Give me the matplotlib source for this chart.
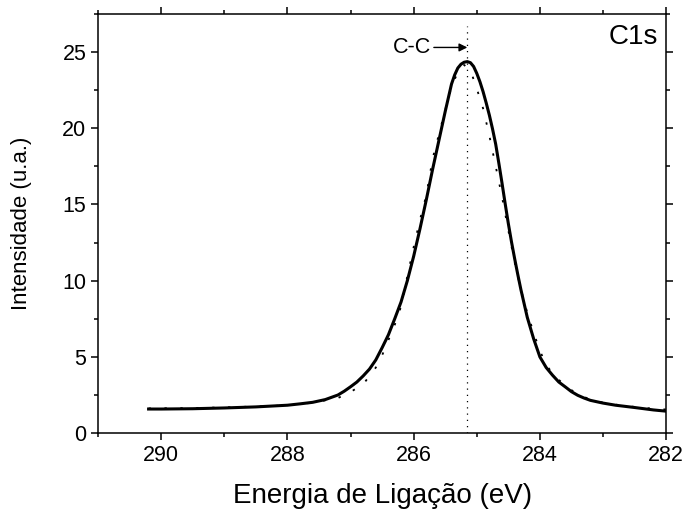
import matplotlib
matplotlib.use("Agg")
import matplotlib.pyplot as plt
from matplotlib.ticker import MultipleLocator

plt.rcParams['font.family'] = ['Liberation Sans', 'DejaVu Sans']

# fitted envelope (solid)
fit_energy = [290.2, 290.0, 289.5, 289.0, 288.5, 288.0, 287.8, 287.6, 287.4, 287.2,
              287.1, 287.0, 286.9, 286.8, 286.7, 286.6, 286.5, 286.4, 286.3, 286.2,
              286.1, 286.0, 285.9, 285.8, 285.7, 285.6, 285.5, 285.4, 285.35, 285.3,
              285.25, 285.2, 285.15, 285.1, 285.05, 285.0, 284.95, 284.9, 284.85, 284.8,
              284.75, 284.7, 284.65, 284.6, 284.55, 284.5, 284.45, 284.4, 284.35, 284.3,
              284.25, 284.2, 284.15, 284.1, 284.0, 283.9, 283.8, 283.7, 283.6, 283.5,
              283.4, 283.3, 283.2, 283.0, 282.8, 282.5, 282.2, 282.0]
fit_int = [1.58, 1.58, 1.60, 1.65, 1.72, 1.83, 1.92, 2.02, 2.20, 2.50,
           2.75, 3.04, 3.35, 3.75, 4.20, 4.80, 5.60, 6.45, 7.50, 8.60,
           10.00, 11.60, 13.40, 15.30, 17.30, 19.20, 21.10, 22.90, 23.50, 23.95,
           24.20, 24.33, 24.37, 24.30, 24.05, 23.60, 23.05, 22.40, 21.65, 20.85,
           19.95, 18.95, 17.70, 16.40, 15.05, 13.75, 12.55, 11.45, 10.40, 9.40,
           8.50, 7.60, 6.90, 6.20, 5.00, 4.30, 3.80, 3.35, 3.04, 2.72,
           2.48, 2.30, 2.15, 1.97, 1.83, 1.68, 1.52, 1.44]

# measured spectrum (dotted)
data_energy = [290.2, 290.0, 289.6, 289.2, 288.8, 288.4, 288.0, 287.8, 287.6, 287.4,
               287.2, 287.0, 286.8, 286.6, 286.5, 286.4, 286.3, 286.2, 286.1, 286.0,
               285.9, 285.8, 285.7, 285.6, 285.5, 285.4, 285.3, 285.2, 285.1, 285.0,
               284.9, 284.8, 284.7, 284.6, 284.5, 284.4, 284.3, 284.2, 284.1, 284.0,
               283.9, 283.8, 283.6, 283.4, 283.2, 283.0, 282.8, 282.6, 282.4, 282.2,
               282.0]
data_int = [1.62, 1.63, 1.64, 1.67, 1.71, 1.76, 1.82, 1.90, 2.00, 2.15,
            2.30, 2.70, 3.20, 4.30, 5.10, 6.10, 7.10, 8.30, 10.30, 12.20,
            14.00, 15.60, 18.00, 19.60, 21.20, 22.70, 23.70, 24.15, 23.80, 22.60,
            21.30, 19.50, 17.50, 15.50, 13.30, 11.20, 9.40, 7.90, 6.60, 5.40,
            4.50, 3.90, 3.10, 2.55, 2.20, 2.00, 1.87, 1.76, 1.68, 1.60,
            1.55]

peak_pos = 285.15

fig = plt.figure(figsize=(6.86, 5.15), dpi=100)
ax = fig.add_axes([0.143, 0.159, 0.828, 0.814])

ax.plot(data_energy, data_int, color='black', lw=1.3, linestyle=(0, (1.3, 7.5)))
ax.plot(fit_energy, fit_int, color='black', lw=2.2)
ax.plot([peak_pos, peak_pos], [0, 26.7], color='black', lw=0.9, linestyle=(0, (1, 4)))

ax.annotate('', xy=(peak_pos, 25.3), xytext=(285.68, 25.3),
            arrowprops=dict(arrowstyle='-|>', color='black', lw=1.0,
                            mutation_scale=12, shrinkA=0, shrinkB=0))
ax.text(285.72, 25.3, 'C-C', fontsize=15.5, ha='right', va='center')
ax.text(0.985, 0.975, 'C1s', transform=ax.transAxes, fontsize=20,
        ha='right', va='top')

ax.set_xlim(291, 282)
ax.set_ylim(0, 27.5)
ax.xaxis.set_major_locator(MultipleLocator(2))
ax.xaxis.set_minor_locator(MultipleLocator(1))
ax.yaxis.set_major_locator(MultipleLocator(5))
ax.yaxis.set_minor_locator(MultipleLocator(2.5))
ax.tick_params(which='both', direction='out', width=1.1, labelsize=15.5,
               top=True, right=True)
ax.tick_params(which='major', length=5)
ax.tick_params(which='minor', length=3)
for s in ax.spines.values():
    s.set_linewidth(1.1)

ax.set_xlabel('Energia de Ligação (eV)', fontsize=20, labelpad=12)
ax.set_ylabel('Intensidade (u.a.)', fontsize=16, labelpad=22)

fig.savefig('out.png', dpi=100)
